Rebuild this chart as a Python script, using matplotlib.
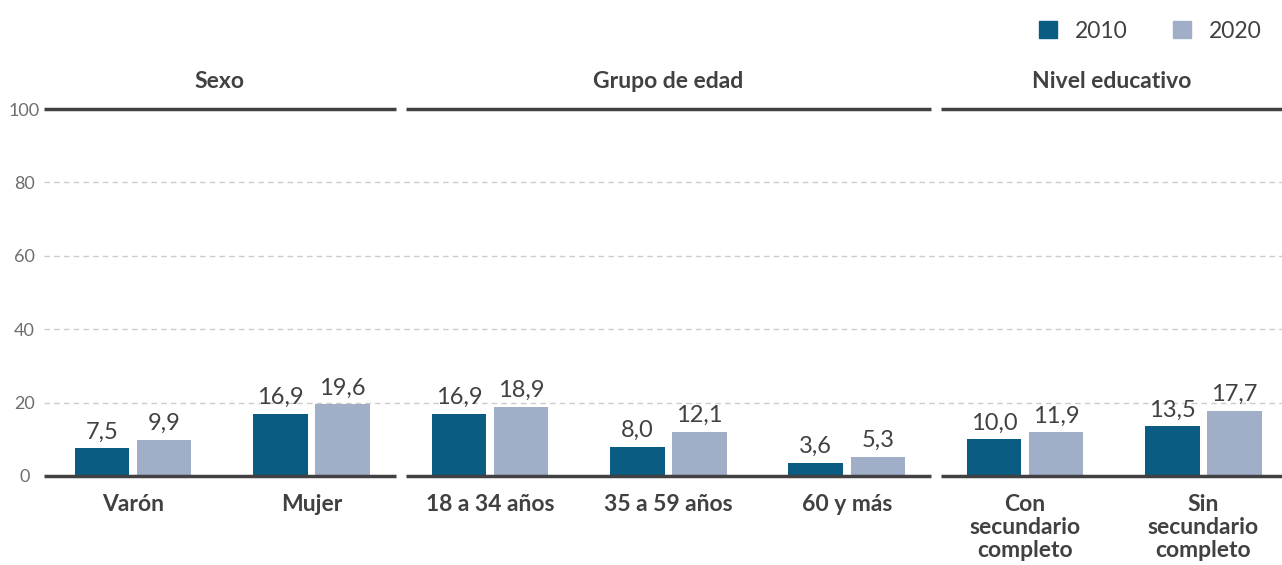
import numpy as np
import matplotlib.pyplot as plt
from matplotlib.patches import Patch
import matplotlib.transforms as mtransforms

# datos
categorias = ['Varón', 'Mujer', '18 a 34 años', '35 a 59 años', '60 y más',
              'Con\nsecundario\ncompleto', 'Sin\nsecundario\ncompleto']
v2010 = [7.5, 16.9, 16.9, 8.0, 3.6, 10.0, 13.5]
v2020 = [9.9, 19.6, 18.9, 12.1, 5.3, 11.9, 17.7]
grupos = ['Sexo', 'Grupo de edad', 'Nivel educativo']
yticks = [0, 20, 40, 60, 80, 100]

c2010 = '#0a5c82'
c2020 = '#a0aec8'
oscuro = '#414042'

plt.rcParams['font.family'] = ['Lato', 'DejaVu Sans']

fig = plt.figure(figsize=(12.82, 5.65), dpi=100)
ax = fig.add_axes([44 / 1282, 1 - 476 / 565, 1 - 44 / 1282, (476 - 109) / 565])

x = np.arange(len(categorias))
off = 0.174
w = 0.305
b1 = ax.bar(x - off, v2010, w, color=c2010, zorder=3)
b2 = ax.bar(x + off, v2020, w, color=c2020, zorder=3)

for barras, vals in ((b1, v2010), (b2, v2020)):
    for b, v in zip(barras, vals):
        ax.annotate(f'{v:.1f}'.replace('.', ','), (b.get_x() + b.get_width() / 2, v),
                    xytext=(0, 7), textcoords='offset points', ha='center', va='baseline',
                    fontsize=17, color=oscuro)

ax.set_xlim(-0.5, 6.44)
ax.set_ylim(0, 100)

# rejilla
for t in yticks[1:-1]:
    ax.axhline(t, color='#cccccc', lw=1, ls=(0, (4, 3)), zorder=1)

# líneas superiores e inferiores partidas por grupo
bordes = [-0.5, 1.5, 4.5, 6.44]
for i in range(3):
    a = bordes[i] + (0.028 if i > 0 else 0)
    z = bordes[i + 1] - (0.028 if i < 2 else 0)
    for yy in (0, 100):
        ax.plot([a, z], [yy, yy], color=oscuro, lw=2.5, solid_capstyle='butt',
                zorder=4, clip_on=False)
    centro = (a + z) / 2
    ax.annotate(grupos[i], (centro, 100), xytext=(0, 15), textcoords='offset points',
                ha='center', va='baseline', fontsize=16.5, fontweight='bold', color=oscuro)

for s in ax.spines.values():
    s.set_visible(False)

ax.set_yticks(yticks)
ax.set_yticklabels([str(t) for t in yticks], fontsize=13, color='#6d6e71')
for lbl in ax.get_yticklabels():
    lbl.set_horizontalalignment('center')
ax.tick_params(axis='y', length=0, pad=14)
ax.set_xticks([])

trans = mtransforms.blended_transform_factory(ax.transData, ax.transAxes)
for xi, cat in zip(x, categorias):
    ax.text(xi, -0.05, cat, transform=trans, ha='center', va='top', fontsize=16.5,
            fontweight='bold', color=oscuro, linespacing=1.12)

handles = [Patch(color=c2010, label='2010'), Patch(color=c2020, label='2020')]
fig.legend(handles=handles, loc='upper right', bbox_to_anchor=(1.0, 1.0), ncol=2,
           frameon=False, handlelength=0.8, handleheight=0.8,
           handletextpad=0.75, columnspacing=2.0, labelcolor=oscuro,
           prop={'size': 16.5})

fig.savefig('out.png', dpi=100)
